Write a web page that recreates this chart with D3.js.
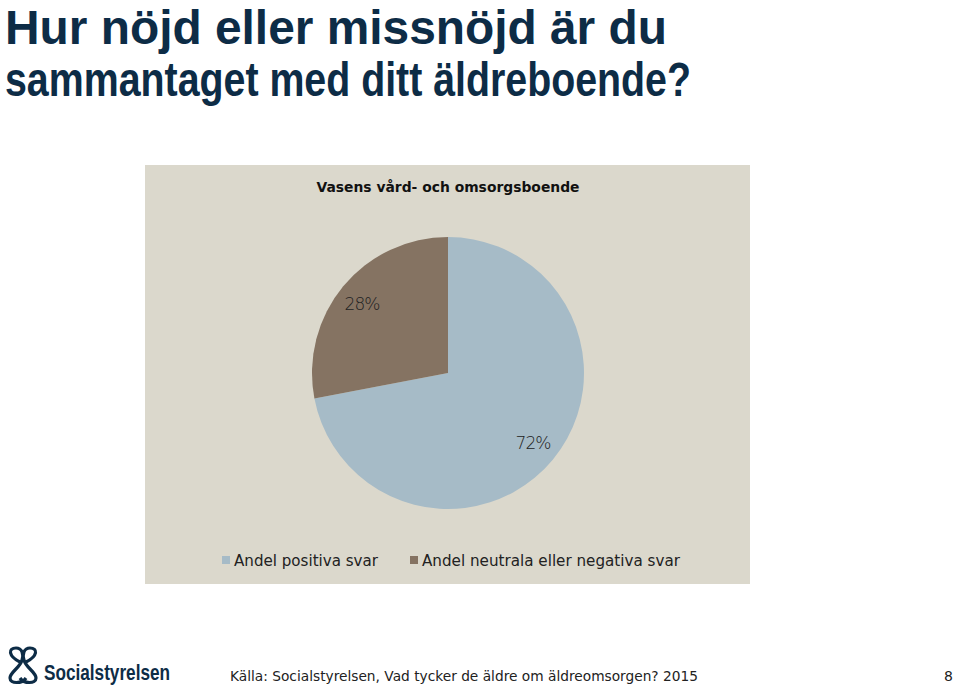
<!DOCTYPE html>
<html><head><meta charset="utf-8">
<script src="https://cdn.jsdelivr.net/npm/d3@7"></script>
<style>body{margin:0;background:#fff;}svg{display:block;}</style>
</head><body>
<svg id="c" width="959" height="688"></svg>
<script>
const categories = ["Andel positiva svar", "Andel neutrala eller negativa svar"];
const values = [72, 28];
const labels = ["72%", "28%"];
const colors = ["#a6bbc7", "#857362"];
const titleLines = ["Hur nöjd eller missnöjd är du", "sammantaget med ditt äldreboende?"];
const chartTitle = "Vasens vård- och omsorgsboende";
const source = "Källa: Socialstyrelsen, Vad tycker de äldre om äldreomsorgen? 2015";
const pageNo = "8";

const svg = d3.select("#c");
const navy = "#0d2c46";

svg.append("text").attr("x", 5).attr("y", 44).attr("fill", navy)
  .attr("font-family", "Liberation Sans, Arial, sans-serif").attr("font-weight", "bold")
  .attr("font-size", 48).attr("textLength", 662).attr("lengthAdjust", "spacingAndGlyphs")
  .text(titleLines[0]);
svg.append("text").attr("x", 5).attr("y", 96).attr("fill", navy)
  .attr("font-family", "Liberation Sans, Arial, sans-serif").attr("font-weight", "bold")
  .attr("font-size", 48).attr("textLength", 686).attr("lengthAdjust", "spacingAndGlyphs")
  .text(titleLines[1]);

// chart box
svg.append("rect").attr("x", 145).attr("y", 165).attr("width", 605).attr("height", 419)
  .attr("fill", "#dbd8cc");

svg.append("text").attr("x", 448).attr("y", 192).attr("text-anchor", "middle")
  .attr("font-family", "DejaVu Sans, sans-serif").attr("font-weight", "bold")
  .attr("font-size", 14).attr("fill", "#111").attr("textLength", 263).attr("lengthAdjust", "spacingAndGlyphs")
  .text(chartTitle);

const cx = 448, cy = 373, r = 136;
const pie = d3.pie().sort(null).value(d => d)(values);
const arc = d3.arc().innerRadius(0).outerRadius(r);
const g = svg.append("g").attr("transform", `translate(${cx},${cy})`);
g.selectAll("path").data(pie).join("path").attr("d", arc)
  .attr("fill", (d, i) => colors[i]);

const labelPos = [[533, 449], [362, 310]];
svg.selectAll("text.lbl").data(pie).join("text").attr("class", "lbl")
  .attr("x", (d, i) => labelPos[i][0]).attr("y", (d, i) => labelPos[i][1])
  .attr("text-anchor", "middle")
  .attr("font-family", "DejaVu Sans, sans-serif").attr("font-size", 17).attr("font-weight", 300)
  .attr("fill", "#222").attr("letter-spacing", -1)
  .text((d, i) => labels[i]);

// legend
const legX = [222, 410], legTextW = [144, 258];
categories.forEach((c, i) => {
  svg.append("rect").attr("x", legX[i]).attr("y", 556).attr("width", 8).attr("height", 8).attr("fill", colors[i]);
  svg.append("text").attr("x", legX[i] + 12).attr("y", 566)
    .attr("font-family", "DejaVu Sans, sans-serif").attr("font-size", 15).attr("fill", "#222")
    .attr("textLength", legTextW[i]).attr("lengthAdjust", "spacingAndGlyphs").text(c);
});

// footer logo
const logo = svg.append("g").attr("fill", "none").attr("stroke", navy).attr("stroke-width", 3.2);
logo.append("path").attr("d", "M20,662 C8,656 8,648 16,648 C22,648 24,654 22,660 C20,668 10,672 10,678 C10,684 22,684 26,678");
logo.append("path").attr("d", "M26,662 C38,656 38,648 30,648 C24,648 22,654 24,660 C26,668 36,672 36,678 C36,684 24,684 20,678");
svg.append("text").attr("x", 44).attr("y", 680).attr("fill", navy)
  .attr("font-family", "Liberation Sans Narrow, Liberation Sans, sans-serif").attr("font-weight", "bold")
  .attr("font-size", 22).attr("textLength", 126).attr("lengthAdjust", "spacingAndGlyphs").text("Socialstyrelsen");

svg.append("text").attr("x", 230).attr("y", 681).attr("fill", "#222")
  .attr("font-family", "DejaVu Sans, sans-serif").attr("font-size", 14)
  .attr("textLength", 468).attr("lengthAdjust", "spacingAndGlyphs").text(source);
svg.append("text").attr("x", 953).attr("y", 681).attr("text-anchor", "end").attr("fill", "#222")
  .attr("font-family", "DejaVu Sans, sans-serif").attr("font-size", 14).text(pageNo);
</script>
</body></html>
